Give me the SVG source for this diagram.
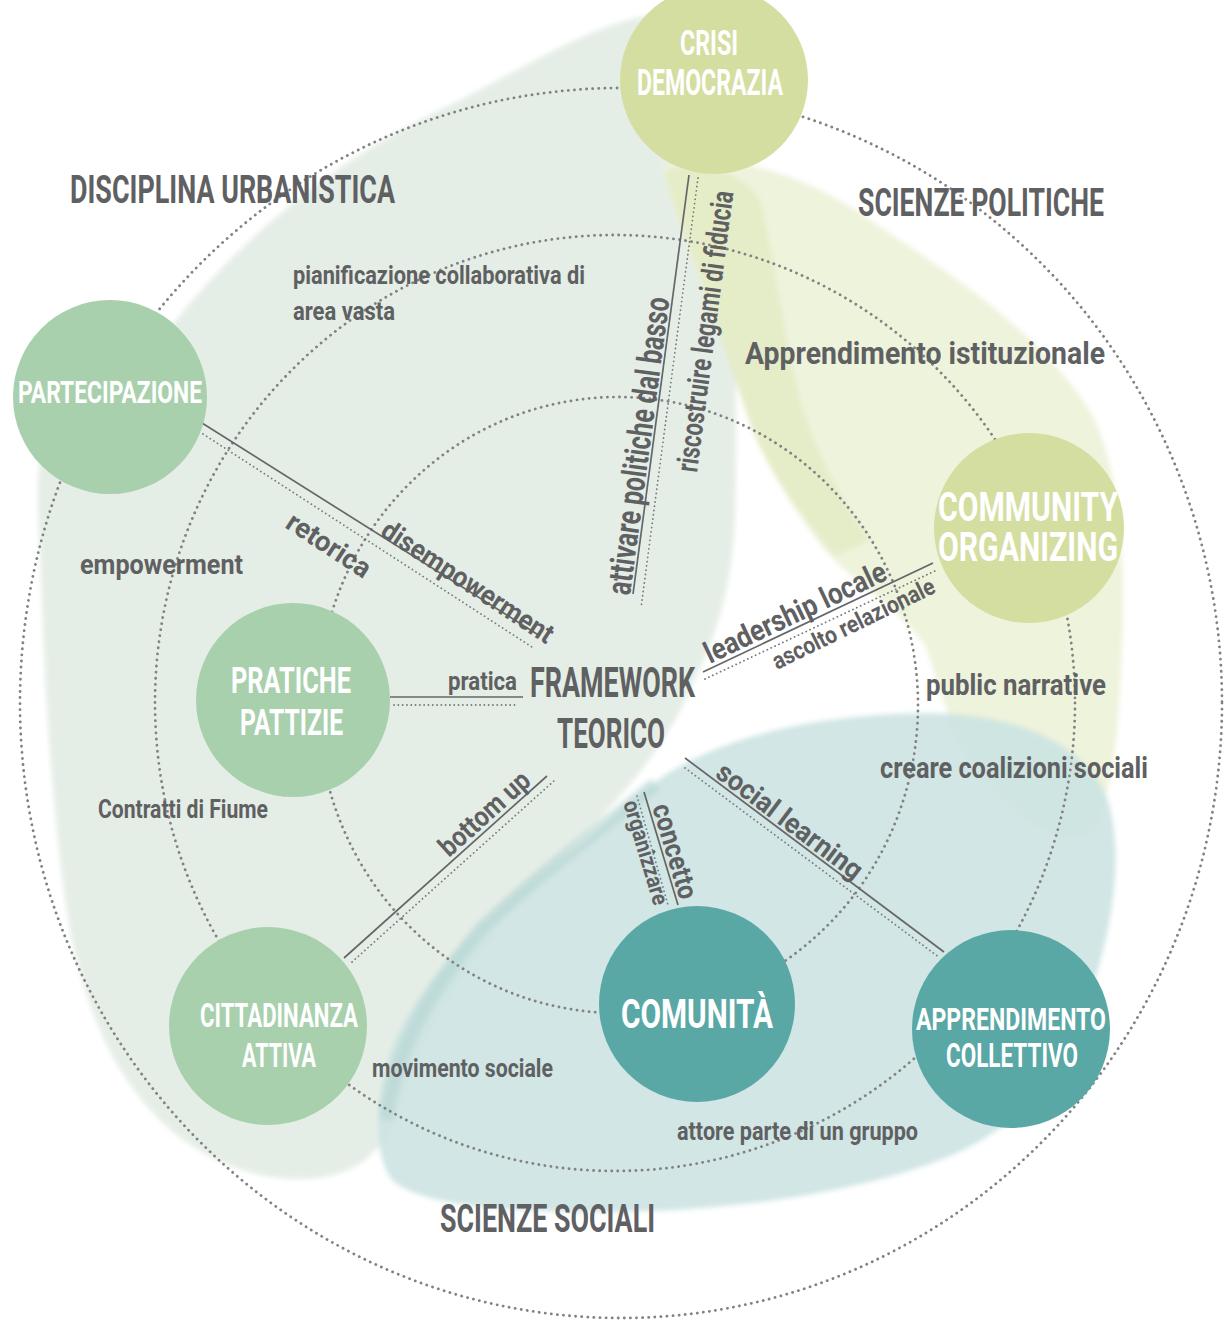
<svg xmlns="http://www.w3.org/2000/svg" width="1225" height="1324" viewBox="0 0 1225 1324">
<defs>
<filter id="soft" x="-10%" y="-10%" width="120%" height="120%"><feGaussianBlur stdDeviation="2.5"/></filter>
<style>
.t{font-family:Roboto,'Liberation Sans','DejaVu Sans',sans-serif;font-weight:700;fill:#5f6062}
.w{fill:#ffffff}
.ring{fill:none;stroke:#828282;stroke-width:2.8;stroke-dasharray:0.1 6;stroke-linecap:round}
.cl{stroke:#666666;stroke-width:1.7;fill:none}
.cd{stroke:#7a7a7a;stroke-width:1.8;stroke-dasharray:0.1 4.2;stroke-linecap:round;fill:none}
.green{fill:#a9d0ad}
.yellow{fill:#d4dea1}
.teal{fill:#5aa8a6}
</style>
</defs>
<rect width="1225" height="1324" fill="#ffffff"/>

<g id="backgrounds" filter="url(#soft)">
<path fill="#e5eee6" d="M175,322 C230,250 330,160 450,105 C530,65 590,25 650,15 C700,40 720,120 728,200 C735,300 738,420 735,520 C732,590 715,640 690,690 C660,760 600,820 540,880 C470,950 420,1030 400,1100 C390,1140 370,1170 320,1178 C260,1185 200,1160 160,1120 C110,1070 80,1000 65,900 C52,800 45,700 42,600 C40,540 35,490 40,460 C60,400 120,360 175,322 Z"/>
<path fill="#eef3dc" d="M662,165 C720,150 800,170 870,220 C960,280 1050,340 1095,420 C1130,500 1125,620 1118,720 C1112,790 1100,830 1075,835 C1040,838 990,790 960,740 C940,700 935,670 925,645 C890,600 850,580 825,550 C790,505 770,470 758,440 C740,390 720,330 700,280 C685,240 670,200 662,165 Z"/>
<path fill="#e2eac3" opacity="0.8" d="M665,170 C700,160 740,170 760,200 C775,260 782,330 800,400 C815,450 840,500 870,540 L835,556 C795,508 768,468 752,430 C735,380 715,320 698,270 C684,235 670,200 665,170 Z"/>
<path fill="#cbe3e1" opacity="0.88" d="M655,782 C720,735 820,715 920,713 C1010,712 1085,740 1108,800 C1125,860 1110,930 1095,980 C1085,1060 1020,1130 940,1160 C850,1195 720,1212 600,1212 C500,1212 420,1205 392,1180 C370,1150 375,1080 400,1030 C430,970 490,910 560,860 C600,830 630,800 655,782 Z"/>
<path fill="none" stroke="#b6d6d4" stroke-width="14" opacity="0.6" d="M655,784 C600,830 530,880 480,930 C430,990 395,1050 386,1120"/>
</g>

<g id="rings">
<ellipse class="ring" cx="621" cy="703" rx="601" ry="615"/>
<ellipse class="ring" cx="615" cy="703" rx="460" ry="468"/>
<ellipse class="ring" cx="618" cy="705" rx="300" ry="308"/>
</g>

<g id="connectors">
<line class="cl" x1="689" y1="175" x2="633" y2="594"/>
<line class="cd" x1="698" y1="178" x2="641" y2="608"/>
<line class="cl" x1="202" y1="423" x2="540" y2="636"/>
<line class="cd" x1="203" y1="434" x2="535" y2="649"/>
<line class="cl" x1="390" y1="697" x2="523" y2="697"/>
<line class="cd" x1="394" y1="705" x2="518" y2="705"/>
<line class="cl" x1="344" y1="958" x2="547" y2="776"/>
<line class="cd" x1="352" y1="962" x2="555" y2="780"/>
<line class="cl" x1="703" y1="672" x2="933" y2="563"/>
<line class="cd" x1="705" y1="679" x2="937" y2="570"/>
<line class="cl" x1="685" y1="758" x2="944" y2="952"/>
<line class="cd" x1="685" y1="768" x2="940" y2="958"/>
<line class="cl" x1="644" y1="792" x2="678" y2="905"/>
<line class="cd" x1="637" y1="796" x2="668" y2="905"/>
</g>

<g id="node-crisi">
<circle class="yellow" cx="714" cy="80" r="94"/>
<text class="t w" x="680" y="55" font-size="35" textLength="58" lengthAdjust="spacingAndGlyphs">CRISI</text>
<text class="t w" x="637" y="95" font-size="37" textLength="146" lengthAdjust="spacingAndGlyphs">DEMOCRAZIA</text>
</g>
<g id="node-partecipazione">
<circle class="green" cx="110" cy="397" r="97"/>
<text class="t w" x="18" y="403" font-size="32" textLength="184" lengthAdjust="spacingAndGlyphs">PARTECIPAZIONE</text>
</g>
<g id="node-pratiche">
<circle class="green" cx="293" cy="700" r="97"/>
<text class="t w" x="231" y="693" font-size="37" textLength="120" lengthAdjust="spacingAndGlyphs">PRATICHE</text>
<text class="t w" x="240" y="735" font-size="37" textLength="103" lengthAdjust="spacingAndGlyphs">PATTIZIE</text>
</g>
<g id="node-cittadinanza">
<circle class="green" cx="268" cy="1026" r="99"/>
<text class="t w" x="200" y="1027" font-size="34" textLength="158" lengthAdjust="spacingAndGlyphs">CITTADINANZA</text>
<text class="t w" x="242" y="1067" font-size="34" textLength="74" lengthAdjust="spacingAndGlyphs">ATTIVA</text>
</g>
<g id="node-comunita">
<circle class="teal" cx="697" cy="1004" r="98"/>
<text class="t w" x="621" y="1028" font-size="41" textLength="152" lengthAdjust="spacingAndGlyphs">COMUNITÀ</text>
</g>
<g id="node-apprendimento">
<circle class="teal" cx="1011" cy="1029" r="99"/>
<text class="t w" x="916" y="1030" font-size="32" textLength="190" lengthAdjust="spacingAndGlyphs">APPRENDIMENTO</text>
<text class="t w" x="946" y="1067" font-size="33" textLength="132" lengthAdjust="spacingAndGlyphs">COLLETTIVO</text>
</g>
<g id="node-community">
<circle class="yellow" cx="1029" cy="528" r="95"/>
<text class="t w" x="938" y="521" font-size="40" textLength="180" lengthAdjust="spacingAndGlyphs">COMMUNITY</text>
<text class="t w" x="938" y="561" font-size="40" textLength="180" lengthAdjust="spacingAndGlyphs">ORGANIZING</text>
</g>
<g id="node-framework">
<text class="t" x="530" y="697" font-size="42" textLength="165" lengthAdjust="spacingAndGlyphs">FRAMEWORK</text>
<text class="t" x="557" y="748" font-size="42" textLength="108" lengthAdjust="spacingAndGlyphs">TEORICO</text>
</g>

<g id="labels">
<text class="t" x="70" y="203" font-size="39" textLength="325" lengthAdjust="spacingAndGlyphs">DISCIPLINA URBANISTICA</text>
<text class="t" x="858" y="216" font-size="39" textLength="246" lengthAdjust="spacingAndGlyphs">SCIENZE POLITICHE</text>
<text class="t" x="440" y="1232" font-size="38" textLength="215" lengthAdjust="spacingAndGlyphs">SCIENZE SOCIALI</text>
<text class="t" x="293" y="284" font-size="26" textLength="292" lengthAdjust="spacingAndGlyphs">pianificazione collaborativa di</text>
<text class="t" x="293" y="320" font-size="26" textLength="102" lengthAdjust="spacingAndGlyphs">area vasta</text>
<text class="t" x="745" y="364" font-size="32" textLength="360" lengthAdjust="spacingAndGlyphs">Apprendimento istituzionale</text>
<text class="t" x="80" y="574" font-size="28" textLength="163" lengthAdjust="spacingAndGlyphs">empowerment</text>
<text class="t" x="98" y="818" font-size="26" textLength="170" lengthAdjust="spacingAndGlyphs">Contratti di Fiume</text>
<text class="t" x="448" y="690" font-size="25" textLength="69" lengthAdjust="spacingAndGlyphs">pratica</text>
<text class="t" x="926" y="695" font-size="29" textLength="180" lengthAdjust="spacingAndGlyphs">public narrative</text>
<text class="t" x="880" y="778" font-size="29" textLength="268" lengthAdjust="spacingAndGlyphs">creare coalizioni sociali</text>
<text class="t" x="372" y="1077" font-size="25" textLength="181" lengthAdjust="spacingAndGlyphs">movimento sociale</text>
<text class="t" x="677" y="1140" font-size="25" textLength="241" lengthAdjust="spacingAndGlyphs">attore parte di un gruppo</text>

<text class="t" transform="translate(630,596) rotate(-82.4)" font-size="34" textLength="300" lengthAdjust="spacingAndGlyphs">attivare politiche dal basso</text>
<text class="t" transform="translate(697,473) rotate(-82.6)" font-size="30" textLength="283" lengthAdjust="spacingAndGlyphs">riscostruire legami di fiducia</text>
<text class="t" transform="translate(379,535) rotate(33.2)" font-size="28" textLength="200" lengthAdjust="spacingAndGlyphs">disempowerment</text>
<text class="t" transform="translate(284,527) rotate(33.2)" font-size="28" textLength="95" lengthAdjust="spacingAndGlyphs">retorica</text>
<text class="t" transform="translate(449,858) rotate(-41.9)" font-size="28" textLength="112" lengthAdjust="spacingAndGlyphs">bottom up</text>
<text class="t" transform="translate(710,664) rotate(-25.4)" font-size="30" textLength="198" lengthAdjust="spacingAndGlyphs">leadership locale</text>
<text class="t" transform="translate(777,670) rotate(-26)" font-size="24" textLength="178" lengthAdjust="spacingAndGlyphs">ascolto relazionale</text>
<text class="t" transform="translate(714,776) rotate(36.8)" font-size="28" textLength="175" lengthAdjust="spacingAndGlyphs">social learning</text>
<text class="t" transform="translate(652,807) rotate(73.3)" font-size="28" textLength="98" lengthAdjust="spacingAndGlyphs">concetto</text>
<text class="t" transform="translate(623,803) rotate(73.3)" font-size="23" textLength="108" lengthAdjust="spacingAndGlyphs">organizzare</text>
</g>
</svg>
